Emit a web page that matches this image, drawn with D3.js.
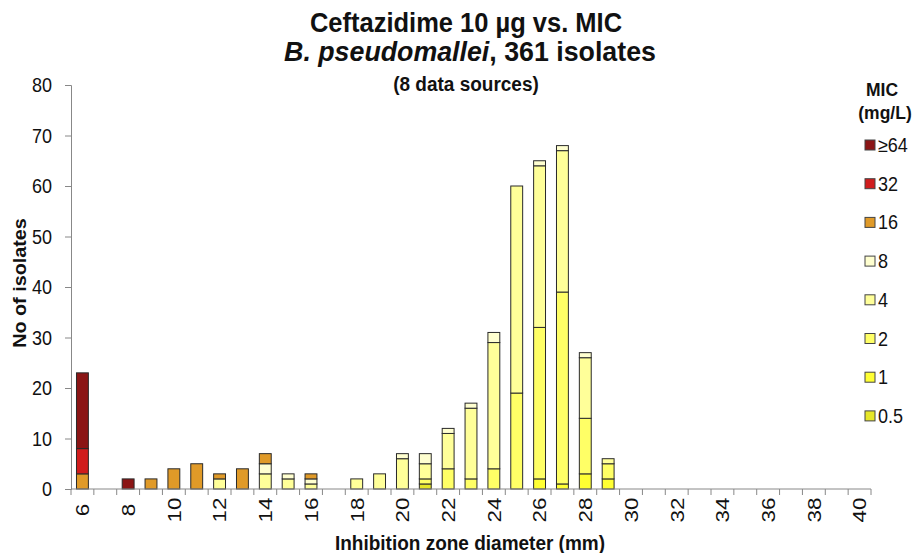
<!DOCTYPE html>
<html>
<head>
<meta charset="utf-8">
<script src="https://cdn.jsdelivr.net/npm/d3@7"></script>
<style>
  html, body { margin: 0; padding: 0; background: #fff; }
  svg { display: block; font-family: "Liberation Sans", Arial, sans-serif; }
</style>
</head>
<body>
<svg id="chart" width="915" height="553"></svg>
<script>
// ---- data ----
const zones = d3.range(6, 41); // 6..40 mm
const xTickLabels = [6, 8, 10, 12, 14, 16, 18, 20, 22, 24, 26, 28, 30, 32, 34, 36, 38, 40];
const yTicks = [0, 10, 20, 30, 40, 50, 60, 70, 80];
const micKeys = ["0.5", "1", "2", "4", "8", "16", "32", "≥64"];
const micColors = ["#e6e628", "#ffff33", "#ffff66", "#ffff99", "#ffffd0", "#e09a28", "#d01c1c", "#8b1515"];

const mic05 = [0,0,0,0,0,0,0,0,0,0, 0,0,0,0,0,1,0,0,0,0, 0,0,0,0,0,0,0,0,0,0, 0,0,0,0,0];
const mic1  = [0,0,0,0,0,0,0,0,0,0, 0,0,0,0,0,0,0,0,0,0, 2,1,3,2,0,0,0,0,0,0, 0,0,0,0,0];
const mic2  = [0,0,0,0,0,0,0,0,0,0, 0,0,0,0,0,1,4,2,4,19, 30,38,11,3,0,0,0,0,0,0, 0,0,0,0,0];
const mic4  = [0,0,0,0,0,0,2,0,3,2, 1,0,2,3,6,3,7,14,25,41, 32,28,12,1,0,0,0,0,0,0, 0,0,0,0,0];
const mic8  = [0,0,0,0,0,0,0,0,2,1, 1,0,0,0,1,2,1,1,2,0, 1,1,1,0,0,0,0,0,0,0, 0,0,0,0,0];
const mic16 = [3,0,0,2,4,5,1,4,2,0, 1,0,0,0,0,0,0,0,0,0, 0,0,0,0,0,0,0,0,0,0, 0,0,0,0,0];
const mic32 = [5,0,0,0,0,0,0,0,0,0, 0,0,0,0,0,0,0,0,0,0, 0,0,0,0,0,0,0,0,0,0, 0,0,0,0,0];
const mic64 = [15,0,2,0,0,0,0,0,0,0, 0,0,0,0,0,0,0,0,0,0, 0,0,0,0,0,0,0,0,0,0, 0,0,0,0,0];

const seriesValues = [mic05, mic1, mic2, mic4, mic8, mic16, mic32, mic64];

// ---- build table ----
const table = zones.map((z, i) => {
  const row = { zone: z };
  micKeys.forEach((k, j) => { row[k] = seriesValues[j][i]; });
  return row;
});

const svg = d3.select("#chart");
const plotLeft = 71, plotRight = 871, plotTop = 85, plotBottom = 489;
const ink = "#111";

const x = d3.scaleBand().domain(zones).range([plotLeft, plotRight]).paddingInner(0.48).paddingOuter(0.24);
const xStep = d3.scaleBand().domain(zones).range([plotLeft, plotRight]);
const y = d3.scaleLinear().domain([0, 80]).range([plotBottom, plotTop]);
const color = d3.scaleOrdinal().domain(micKeys).range(micColors);

const stacked = d3.stack().keys(micKeys)(table);

// helper: text with a stretch transform
function stext(tx, ty, extra, size, opts = {}) {
  const t = svg.append("text")
    .attr("transform", `translate(${tx},${ty}) ${extra}`)
    .attr("text-anchor", opts.anchor || "middle")
    .attr("font-size", size)
    .attr("font-weight", opts.bold ? "bold" : "normal")
    .attr("fill", ink);
  if (opts.dy) t.attr("dy", opts.dy);
  return t;
}

// bars
const g = svg.append("g");
stacked.forEach(layer => {
  g.selectAll(null)
    .data(layer.filter(d => d[1] - d[0] > 0))
    .enter().append("rect")
    .attr("x", d => x(d.data.zone))
    .attr("width", x.bandwidth())
    .attr("y", d => y(d[1]))
    .attr("height", d => y(d[0]) - y(d[1]))
    .attr("fill", color(layer.key))
    .attr("stroke", "#2a2a2a")
    .attr("stroke-width", 1);
});

// y axis
const yAxis = d3.axisLeft(y).tickValues(yTicks).tickSize(6).tickFormat("");
const ya = svg.append("g").attr("transform", `translate(${plotLeft},0)`).call(yAxis);
ya.select(".domain").attr("stroke", "#888");
ya.selectAll(".tick line").attr("stroke", "#888");
yTicks.forEach(v => {
  stext(52, y(v), "scale(1,1.08)", 18, { anchor: "end", dy: "0.36em" }).text(v);
});

// x axis line
svg.append("line").attr("x1", plotLeft).attr("x2", plotRight).attr("y1", plotBottom).attr("y2", plotBottom)
  .attr("stroke", "#888").attr("stroke-width", 1);
// x ticks between categories
const boundaries = zones.map(z => xStep(z)).concat([plotRight]);
svg.append("g").selectAll("line").data(boundaries).enter().append("line")
  .attr("x1", d => d).attr("x2", d => d).attr("y1", plotBottom).attr("y2", plotBottom + 6)
  .attr("stroke", "#888");

// x tick labels (rotated)
xTickLabels.forEach(v => {
  stext(x(v) + x.bandwidth() / 2, 510, "rotate(-90) scale(1.18,1)", 19, { dy: "0.36em" }).text(v);
});

// axis titles
stext(470, 550, "scale(1,1.06)", 19, { bold: true }).text("Inhibition zone diameter (mm)");
stext(20, 283, "rotate(-90) scale(1.1,1)", 18, { bold: true, dy: "0.36em" }).text("No of isolates");

// titles
stext(466, 32, "scale(1,1.1)", 25.5, { bold: true }).text("Ceftazidime 10 µg vs. MIC");
const t2 = stext(470, 61, "scale(1.05,1.1)", 25.5, { bold: true });
t2.append("tspan").attr("font-style", "italic").text("B. pseudomallei");
t2.append("tspan").text(", 361 isolates");
stext(466, 91, "scale(1,1.06)", 19, { bold: true }).text("(8 data sources)");

// legend
stext(882, 96, "scale(1,1.08)", 17.5, { bold: true }).text("MIC");
stext(885, 119, "scale(1,1.08)", 17.5, { bold: true }).text("(mg/L)");
const legendOrder = micKeys.slice().reverse();
legendOrder.forEach((k, i) => {
  const cy = 145 + i * 38.7;
  svg.append("rect").attr("x", 865).attr("y", cy - 5).attr("width", 10).attr("height", 10)
    .attr("fill", color(k)).attr("stroke", "#444").attr("stroke-width", 1);
  stext(878, cy, "scale(1,1.08)", 18, { anchor: "start", dy: "0.36em" }).text(k);
});
</script>
</body>
</html>
